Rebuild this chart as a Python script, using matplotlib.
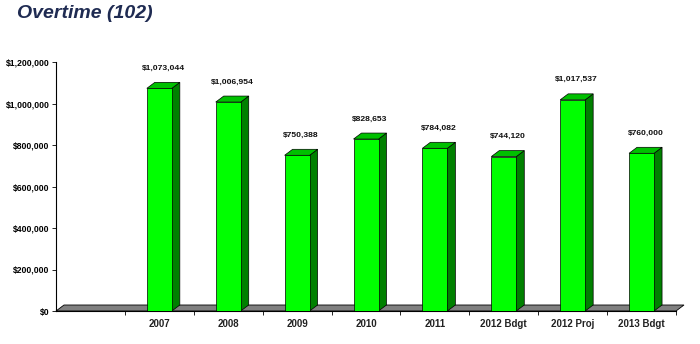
import matplotlib
matplotlib.use("Agg")
import matplotlib.pyplot as plt
from matplotlib.patches import Polygon
from matplotlib.ticker import FuncFormatter, FixedLocator, NullFormatter

categories = ["", "2007", "2008", "2009", "2010", "2011", "2012 Bdgt", "2012 Proj", "2013 Bdgt"]
values = [None, 1073044, 1006954, 750388, 828653, 784082, 744120, 1017537, 760000]
y_ticks = [0, 200000, 400000, 600000, 800000, 1000000, 1200000]

FRONT = "#00FF00"
SIDE = "#008000"
TOP = "#00C000"
FLOOR = "#808080"

W, H = 700, 344
fig = plt.figure(figsize=(W / 100, H / 100), dpi=100)
ax = fig.add_axes([56 / W, (H - 311) / H, (676 - 56) / W, (311 - 62) / H])

n = len(categories)
xs = list(range(n))
ax.set_xlim(-0.5, n - 0.5)
ax.set_ylim(0, 1200000)

# depth of the pseudo-3D extrusion, in data units
px_x = (n) / (676 - 56)
px_y = 1200000 / (311 - 62)
dx = 8 * px_x
dy = 6 * px_y
bw = 25 * px_x

# floor slab
floor = Polygon([(-0.5, 0), (-0.5 + dx, dy), (n - 0.5 + dx, dy), (n - 0.5, 0)],
                closed=True, facecolor=FLOOR, edgecolor="black", lw=0.6,
                clip_on=False, zorder=1)
ax.add_patch(floor)

bar_x = [x for x, v in zip(xs, values) if v is not None]
bar_v = [v for v in values if v is not None]

for x, v in zip(bar_x, bar_v):
    x0, x1 = x - bw / 2, x + bw / 2
    side = Polygon([(x1, 0), (x1 + dx, dy), (x1 + dx, v + dy), (x1, v)],
                   closed=True, facecolor=SIDE, edgecolor="black", lw=0.5, zorder=2)
    top = Polygon([(x0, v), (x0 + dx, v + dy), (x1 + dx, v + dy), (x1, v)],
                  closed=True, facecolor=TOP, edgecolor="black", lw=0.5, zorder=2)
    ax.add_patch(side)
    ax.add_patch(top)

ax.bar(bar_x, bar_v, width=bw, color=FRONT, edgecolor="black", lw=0.5, zorder=3)

for x, v in zip(bar_x, bar_v):
    ax.annotate(f"${v:,.0f}", xy=(x + dx / 2, v), xytext=(0, 14.5),
                textcoords="offset points", ha="center", va="center",
                fontsize=6.1, fontweight="bold", family=["Liberation Sans", "DejaVu Sans"],
                color="#111111", zorder=5)

# axes styling
for s in ("top", "right"):
    ax.spines[s].set_visible(False)
ax.spines["left"].set_linewidth(0.8)
ax.spines["bottom"].set_linewidth(0.8)
ax.spines["left"].set_zorder(4)

ax.set_yticks(y_ticks)
ax.yaxis.set_major_formatter(FuncFormatter(lambda v, p: f"${v:,.0f}"))
ax.tick_params(axis="y", length=3, width=0.6, pad=1.5, labelsize=6.2)
for t in ax.get_yticklabels():
    t.set_family(["Liberation Sans Narrow", "Liberation Sans", "DejaVu Sans"])
    t.set_fontweight("bold")

ax.xaxis.set_major_locator(FixedLocator([x + 0.5 for x in xs[:-1]] + [n - 0.5]))
ax.xaxis.set_major_formatter(NullFormatter())
ax.xaxis.set_minor_locator(FixedLocator(xs))
ax.set_xticklabels(categories, minor=True)
ax.tick_params(axis="x", which="major", length=3, width=0.6)
ax.tick_params(axis="x", which="minor", length=0, pad=5.5, labelsize=7)
for t in ax.get_xticklabels(minor=True):
    t.set_family(["Liberation Sans", "DejaVu Sans"])
    t.set_fontweight("bold")
    t.set_color("#222222")

fig.text(17 / W, 1 - 14 / H, "Overtime (102)", ha="left", va="center",
         fontsize=14, fontweight="bold", fontstyle="italic",
         family=["Liberation Sans", "DejaVu Sans"], color="#1F2B52")

fig.savefig("out.png", dpi=100)
